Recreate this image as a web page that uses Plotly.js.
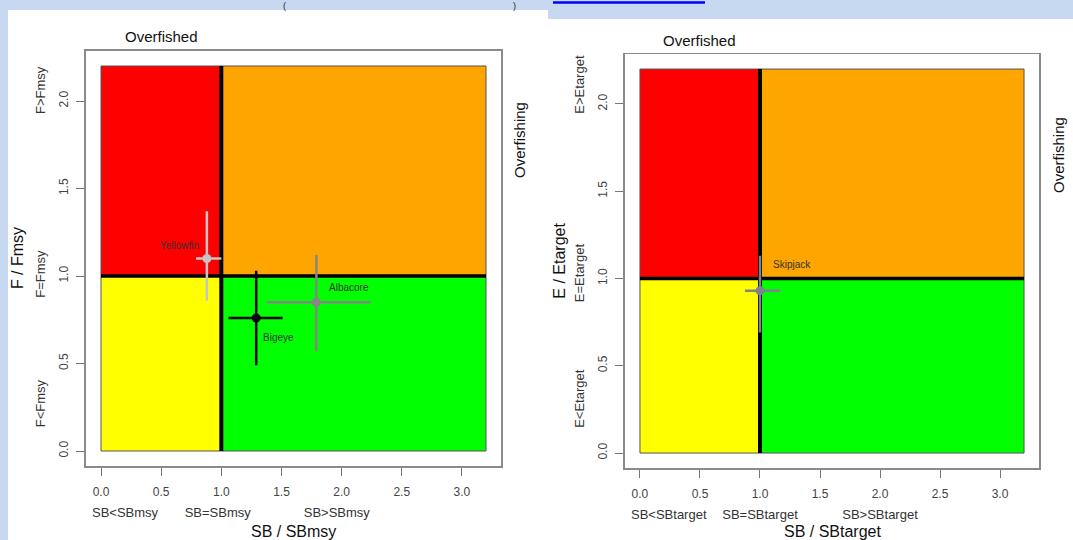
<!DOCTYPE html>
<html><head><meta charset="utf-8">
<script src="https://cdn.plot.ly/plotly-3.0.1.min.js"></script>
<style>html,body{margin:0;padding:0;background:#c6d9f0}#chart{width:1073px;height:540px}</style>
</head><body><div id="chart"></div>
<script>
// ---------------- DATA ----------------
const zoneXBreaks = [0, 1, 3.2];
const zoneYBreaks = [0, 1, 2.2];
const xTickVals = [0, 0.5, 1, 1.5, 2, 2.5, 3];
const yTickVals = [0, 0.5, 1, 1.5, 2];

const leftStocks = ['Yellowfin', 'Bigeye', 'Albacore'];
const leftSB     = [0.88, 1.29, 1.79];
const leftSBlow  = [0.79, 1.06, 1.38];
const leftSBhigh = [1.00, 1.51, 2.24];
const leftF      = [1.10, 0.76, 0.85];
const leftFlow   = [0.86, 0.49, 0.57];
const leftFhigh  = [1.37, 1.03, 1.12];

const rightStocks = ['Skipjack'];
const rightSB     = [1.00];
const rightSBlow  = [0.875];
const rightSBhigh = [1.17];
const rightE      = [0.93];
const rightElow   = [0.69];
const rightEhigh  = [1.13];

const leftXStatusVals  = [0.2, 0.97, 1.96];
const leftXStatusText  = ['SB<SBmsy', 'SB=SBmsy', 'SB>SBmsy'];
const leftYStatusVals  = [0.26, 1.0, 2.05];
const leftYStatusText  = ['F<Fmsy', 'F=Fmsy', 'F>Fmsy'];
const rightXStatusVals = [0.24, 1.0, 2.0];
const rightXStatusText = ['SB<SBtarget', 'SB=SBtarget', 'SB>SBtarget'];
const rightYStatusVals = [0.3, 1.02, 2.1];
const rightYStatusText = ['E<Etarget', 'E=Etarget', 'E>Etarget'];

// ---------------- STYLE ----------------
const FONT = 'Liberation Sans, Arial, sans-serif';
const zoneColors = [['#ffff00', '#00ff00'], ['#ff0000', '#ffa500']]; // [row][col]
const stockColors = {Yellowfin: '#c4c4c4', Bigeye: '#000000', Albacore: '#868686', Skipjack: '#7d8190'};
const labelShift = {Yellowfin: [-27, 13], Bigeye: [22, -19], Albacore: [33, 15], Skipjack: [32, 26]};
const xRange = [-0.128, 3.328];
const yRange = [-0.088, 2.288];
const W = 1073, H = 540;
const px = v => v / W;
const py = v => 1 - v / H;

function stockTraces(names, sb, sbLo, sbHi, fv, fLo, fHi, xa, ya) {
  return names.map((n, i) => ({
    type: 'scatter', mode: 'markers', name: n, showlegend: false, hoverinfo: 'skip',
    x: [sb[i]], y: [fv[i]], xaxis: xa, yaxis: ya,
    marker: {color: stockColors[n], size: 9},
    error_x: {type: 'data', symmetric: false, array: [sbHi[i] - sb[i]], arrayminus: [sb[i] - sbLo[i]],
              color: stockColors[n], thickness: 2.5, width: 0},
    error_y: {type: 'data', symmetric: false, array: [fHi[i] - fv[i]], arrayminus: [fv[i] - fLo[i]],
              color: stockColors[n], thickness: 2.5, width: 0}
  }));
}
function stockLabels(names, sb, fv, xa, ya) {
  return names.map((n, i) => ({
    x: sb[i], y: fv[i], xref: xa, yref: ya, text: n, showarrow: false,
    xanchor: 'center', yanchor: 'middle',
    xshift: labelShift[n][0], yshift: labelShift[n][1],
    font: {family: FONT, size: 10, color: '#333'}
  }));
}
function zoneShapes(xa, ya) {
  const s = [];
  for (let r = 0; r < 2; r++) for (let c = 0; c < 2; c++) {
    s.push({type: 'rect', xref: xa, yref: ya, layer: 'below',
      x0: zoneXBreaks[c], x1: zoneXBreaks[c + 1], y0: zoneYBreaks[r], y1: zoneYBreaks[r + 1],
      fillcolor: zoneColors[r][c], line: {color: '#555', width: 1}});
  }
  s.push({type: 'line', xref: xa, yref: ya, layer: 'below', x0: zoneXBreaks[0], x1: zoneXBreaks[2],
    y0: zoneYBreaks[1], y1: zoneYBreaks[1], line: {color: '#000', width: 3.5}});
  s.push({type: 'line', xref: xa, yref: ya, layer: 'below', x0: zoneXBreaks[1], x1: zoneXBreaks[1],
    y0: zoneYBreaks[0], y1: zoneYBreaks[2], line: {color: '#000', width: 4}});
  return s;
}
function mainX(domain, anchor) {
  return {domain, anchor, range: xRange, autorange: false, showgrid: false, zeroline: false,
    showline: true, mirror: true, linecolor: '#8a8a8a', linewidth: 1.2,
    ticks: 'outside', ticklen: 8, tickwidth: 1, tickcolor: '#777',
    tickvals: xTickVals, tickformat: '.1f', ticklabelstandoff: 6,
    tickfont: {family: FONT, size: 12, color: '#444'}};
}
function mainY(domain, anchor) {
  return {domain, anchor, range: yRange, autorange: false, showgrid: false, zeroline: false,
    showline: true, mirror: true, linecolor: '#8a8a8a', linewidth: 1.2,
    ticks: 'outside', ticklen: 8, tickwidth: 1, tickcolor: '#777',
    tickvals: yTickVals, tickformat: '.1f', tickangle: -90, ticklabelstandoff: 4,
    tickfont: {family: FONT, size: 12, color: '#444'}};
}
function statusX(over, anchor, vals, text) {
  return {overlaying: over, anchor, side: 'bottom', range: xRange, autorange: false, showgrid: false,
    zeroline: false, showline: false, ticks: '', tickvals: vals, ticktext: text, ticklabelstandoff: 37,
    tickfont: {family: FONT, size: 13, color: '#333'}};
}
function statusY(over, anchor, vals, text) {
  return {overlaying: over, anchor, side: 'left', range: yRange, autorange: false, showgrid: false,
    zeroline: false, showline: false, ticks: '', tickvals: vals, ticktext: text, tickangle: -90,
    ticklabelstandoff: 37, tickfont: {family: FONT, size: 13, color: '#333'}};
}

const L = {x: [px(85.6), px(501.4)], y: [py(466.4), py(50.6)]};
const R = {x: [px(624.6), px(1039.4)], y: [py(468.4), py(53.7)]};

const traces = [
  ...stockTraces(leftStocks, leftSB, leftSBlow, leftSBhigh, leftF, leftFlow, leftFhigh, 'x', 'y'),
  ...stockTraces(rightStocks, rightSB, rightSBlow, rightSBhigh, rightE, rightElow, rightEhigh, 'x2', 'y2'),
  {type: 'scatter', x: [], y: [], xaxis: 'x3', yaxis: 'y3', showlegend: false, hoverinfo: 'skip'},
  {type: 'scatter', x: [], y: [], xaxis: 'x4', yaxis: 'y4', showlegend: false, hoverinfo: 'skip'}
];

const textFont = s => ({family: FONT, size: s, color: '#111'});
const ann = o => Object.assign({showarrow: false, xanchor: 'center', yanchor: 'middle'}, o);
const annotations = [
  ...stockLabels(leftStocks, leftSB, leftF, 'x', 'y'),
  ...stockLabels(rightStocks, rightSB, rightE, 'x2', 'y2'),
  ann({x: 0.5, xref: 'x', y: 1, yref: 'y domain', yshift: 14.6, text: 'Overfished', font: textFont(15)}),
  ann({x: 0.5, xref: 'x2', y: 1, yref: 'y2 domain', yshift: 13.7, text: 'Overfished', font: textFont(15)}),
  ann({x: 1, xref: 'x domain', xshift: 18, y: 1.78, yref: 'y', text: 'Overfishing', textangle: -90, font: textFont(15)}),
  ann({x: 1, xref: 'x2 domain', xshift: 19, y: 1.71, yref: 'y2', text: 'Overfishing', textangle: -90, font: textFont(15)}),
  ann({x: 0.5, xref: 'x domain', y: 0, yref: 'y domain', yshift: -64.6, text: 'SB / SBmsy', font: textFont(16)}),
  ann({x: 0.5, xref: 'x2 domain', y: 0, yref: 'y2 domain', yshift: -62.6, text: 'SB / SBtarget', font: textFont(16)}),
  ann({x: 0, xref: 'x domain', xshift: -68, y: 0.5, yref: 'y domain', text: 'F / Fmsy', textangle: -90, font: textFont(16)}),
  ann({x: 0, xref: 'x2 domain', xshift: -66, y: 0.5, yref: 'y2 domain', text: 'E / Etarget', textangle: -90, font: textFont(16)}),
  ann({x: px(284), xref: 'paper', y: 1, yref: 'paper', yanchor: 'top', yshift: 1, text: '(', font: {family: FONT, size: 9, color: '#222'}}),
  ann({x: px(514), xref: 'paper', y: 1, yref: 'paper', yanchor: 'top', yshift: 1, text: ')', font: {family: FONT, size: 9, color: '#222'}})
];

const shapes = [
  {type: 'rect', xref: 'paper', yref: 'paper', layer: 'below', x0: px(8), x1: px(548), y0: 0, y1: py(10), fillcolor: '#ffffff', line: {width: 0}},
  {type: 'rect', xref: 'paper', yref: 'paper', layer: 'below', x0: px(548), x1: 1, y0: 0, y1: py(19), fillcolor: '#ffffff', line: {width: 0}},
  {type: 'line', xref: 'paper', yref: 'paper', x0: px(553), x1: px(705), y0: py(2.5), y1: py(2.5), line: {color: '#0000ff', width: 2.5}},
  ...zoneShapes('x', 'y'),
  ...zoneShapes('x2', 'y2')
];

const layout = {
  width: W, height: H, margin: {l: 0, r: 0, t: 0, b: 0},
  paper_bgcolor: '#c6d9f0', plot_bgcolor: '#ffffff', showlegend: false,
  xaxis: mainX(L.x, 'y'), yaxis: mainY(L.y, 'x'),
  xaxis2: mainX(R.x, 'y2'), yaxis2: mainY(R.y, 'x2'),
  xaxis3: statusX('x', 'y', leftXStatusVals, leftXStatusText),
  yaxis3: statusY('y', 'x', leftYStatusVals, leftYStatusText),
  xaxis4: statusX('x2', 'y2', rightXStatusVals, rightXStatusText),
  yaxis4: statusY('y2', 'x2', rightYStatusVals, rightYStatusText),
  shapes, annotations
};

Plotly.newPlot('chart', traces, layout, {staticPlot: true, displayModeBar: false});
</script></body></html>
